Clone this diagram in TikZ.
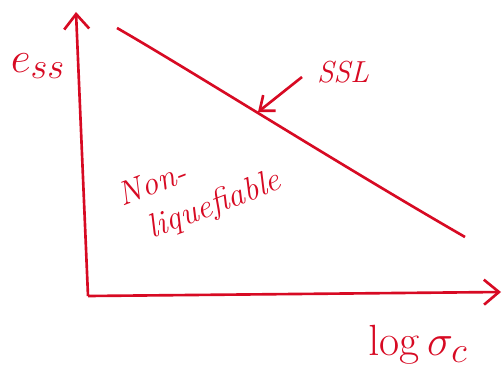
\documentclass[tikz,border=0pt]{standalone}
\usepackage{tikz}
\usetikzlibrary{arrows.meta,positioning,calc}
\definecolor{inkred}{RGB}{215,10,35}
\tikzset{
  axisline/.style = {-{Straight Barb[length=3mm,width=5mm]}, line width=1.5pt, inkred},
  ssl/.style      = {line width=1.5pt, inkred},
  pointer/.style  = {-{Straight Barb[length=2.5mm,width=4mm]}, line width=1.5pt, inkred},
  ink/.style      = {text=inkred, inner sep=1pt},
}

\begin{document}
\begin{tikzpicture}[x=0.02cm,y=-0.02cm]
\useasboundingbox (0,0) rectangle (502,378);
% axes
\coordinate (o) at (88,296);
\coordinate (ytop) at (76,12);
\coordinate (xend) at (501,292);
\draw[axisline] (o) -- (ytop);
\draw[axisline] (o) -- (xend);
\node[ink,font=\Huge] (ess) at (38,66) {$e_{ss}$};
\node[ink,font=\Huge] (logs) at (418,345) {$\log\sigma_c$};
% steady state line
\coordinate (ssla) at (117,28);
\coordinate (sslb) at (465,237);
\draw[ssl] (ssla) .. controls (190,70) and (340,165) .. (sslb);
\node[ink,font=\LARGE\itshape] (ssltxt) at (343,72) {SSL};
\coordinate (ptail) at (302,77);
\coordinate (sslpt) at (258,112);
\draw[pointer] (ptail) -- (sslpt);
% region
\node[ink,font=\fontsize{19}{23}\selectfont\itshape,rotate=21,align=left] (region) at (200,190)
  {Non-\\\hspace{0.5em}liquefiable};
\end{tikzpicture}
\end{document}
